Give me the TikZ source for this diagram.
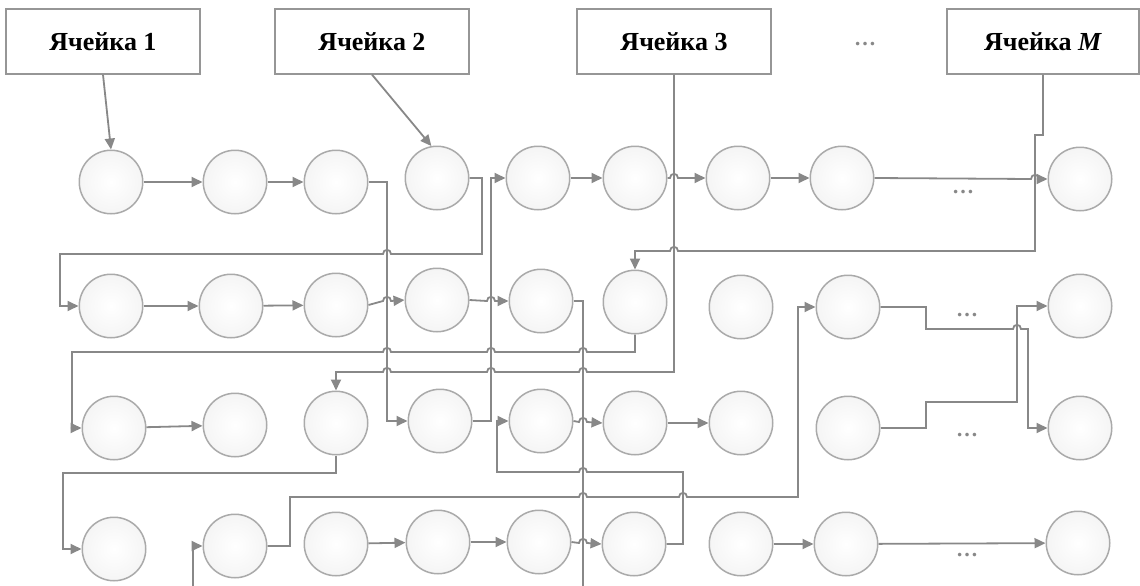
\documentclass[tikz,border=0pt]{standalone}
\usepackage{fontspec}
\setmainfont{Liberation Serif}
\usetikzlibrary{arrows.meta}
\definecolor{wiregray}{RGB}{136,136,136}
\definecolor{ringgray}{RGB}{170,170,170}
\definecolor{framegray}{RGB}{150,150,150}
\tikzset{
  cellbox/.style={rectangle, draw=framegray, line width=1.3pt, fill=white,
    minimum width=194pt, minimum height=65pt, inner sep=0pt,
    font=\fontsize{26}{30}\selectfont\bfseries},
  cell/.style={circle, draw=ringgray, line width=1.5pt, minimum size=63.5pt,
    inner sep=0pt, inner color=white, outer color=black!4},
  link/.style={draw=wiregray, line width=1.8pt,
    -{Triangle[length=11pt,width=10pt]}},
  gap/.style={text=wiregray, font=\fontsize{22}{22}\selectfont\bfseries,
    anchor=base, inner sep=0pt},
  % small bump where a line jumps over a crossing line
  hopr/.style 2 args={insert path={-- ({#1-4},#2)
    .. controls ({#1-4},{#2-5.5}) and ({#1+4},{#2-5.5}) .. ({#1+4},#2)}},
  hopl/.style 2 args={insert path={-- ({#1+4},#2)
    .. controls ({#1+4},{#2-5.5}) and ({#1-4},{#2-5.5}) .. ({#1-4},#2)}},
}
\begin{document}
\begin{tikzpicture}[x=1pt,y=-1pt]
\useasboundingbox (0,0) rectangle (1140,586);

% memory cells
\node[cellbox] (b1) at (103,41.5) {Ячейка 1};
\node[cellbox] (b2) at (372,41.5) {Ячейка 2};
\node[cellbox] (b3) at (674,41.5) {Ячейка 3};
\node[cellbox, minimum width=192pt] (bM) at (1043,41.5) {Ячейка \textit{M}};
\node[gap] (dtop) at (865,46) {…};

% row 1
\node[cell] (r1c1) at (111,182) {};
\node[cell] (r1c2) at (235,182) {};
\node[cell] (r1c3) at (336,182) {};
\node[cell] (r1c4) at (437,178) {};
\node[cell] (r1c5) at (538,178) {};
\node[cell] (r1c6) at (635,178) {};
\node[cell] (r1c7) at (738,178) {};
\node[cell] (r1c8) at (842,178) {};
\node[cell] (r1c9) at (1080,179) {};
% row 2
\node[cell] (r2c1) at (111,306) {};
\node[cell] (r2c2) at (231,306) {};
\node[cell] (r2c3) at (336,305) {};
\node[cell] (r2c4) at (437,300) {};
\node[cell] (r2c5) at (541,301) {};
\node[cell] (r2c6) at (635,302) {};
\node[cell] (r2c7) at (741,307) {};
\node[cell] (r2c8) at (848,307) {};
\node[cell] (r2c9) at (1080,306) {};
% row 3
\node[cell] (r3c1) at (114,428) {};
\node[cell] (r3c2) at (235,425) {};
\node[cell] (r3c3) at (336,423) {};
\node[cell] (r3c4) at (440,421) {};
\node[cell] (r3c5) at (541,421) {};
\node[cell] (r3c6) at (635,423) {};
\node[cell] (r3c7) at (741,423) {};
\node[cell] (r3c8) at (848,428) {};
\node[cell] (r3c9) at (1080,428) {};
% row 4
\node[cell] (r4c1) at (114,549) {};
\node[cell] (r4c2) at (235,546) {};
\node[cell] (r4c3) at (336,544) {};
\node[cell] (r4c4) at (438,542) {};
\node[cell] (r4c5) at (539,542) {};
\node[cell] (r4c6) at (634,544) {};
\node[cell] (r4c7) at (741,544) {};
\node[cell] (r4c8) at (846,544) {};
\node[cell] (r4c9) at (1078,543) {};

% omitted elements
\node[gap] (d1) at (963,193) {…};
\node[gap] (d2) at (967,316) {…};
\node[gap] (d3) at (967,436) {…};
\node[gap] (d4) at (967,556) {…};

% pointers from the cells to the first elements
\draw[link] (b1.south) -- (r1c1.north);
\draw[link] (b2.south) -- (r1c4.100);
\draw[link] (b3.south) -- (674,372) [hopl={583}{372}] [hopl={491}{372}]
  [hopl={387}{372}] -| (r3c3.north);
\draw[link] (bM.south) -- (1043,135) -- (1035,135) -- (1035,251)
  [hopl={674}{251}] -| (r2c6.north);

% chain starting in cell 1
\draw[link] (r1c1) -- (r1c2);
\draw[link] (r1c2) -- (r1c3);
\draw[link] (r1c3.east) -- (387,182) |- (r3c4.west);
\draw[link] (r3c4.east) -- (491,421) |- (r1c5.west);
\draw[link] (r1c5) -- (r1c6);
\draw[link] (r1c6.east) [hopr={674}{178}] -- (r1c7.west);
\draw[link] (r1c7) -- (r1c8);
\draw[link] (r1c8.east) [hopr={1035}{179}] -- (r1c9.west);

% chain starting in cell 2
\draw[link] (r1c4.east) -- (482,178) -- (482,254) [hopl={387}{254}]
  -- (60,254) |- (r2c1.west);
\draw[link] (r2c1) -- (r2c2);
\draw[link] (r2c2) -- (r2c3);
\draw[link] (r2c3.east) [hopr={387}{301}] -- (r2c4.west);
\draw[link] (r2c4.east) [hopr={491}{301}] -- (r2c5.west);
\draw[link] (r2c5.east) -- (583,301) -- (583,592) -- (193,592) |- (r4c2.west);
\draw[link] (r4c2.east) -- (290,546) -- (290,497) [hopr={583}{497}]
  [hopr={683}{497}] -- (798,497) |- (r2c8.west);
\draw[link] (r2c8.east) -- (926,307) -- (926,329) [hopr={1017}{329}]
  -- (1028,329) |- (r3c9.west);

% chain starting in cell M
\draw[link] (r2c6.south) -- (635,352) [hopl={583}{352}] [hopl={491}{352}]
  [hopl={387}{352}] -- (72,352) |- (r3c1.west);
\draw[link] (r3c1) -- (r3c2);

% chain starting in cell 3
\draw[link] (r3c3.south) -- (336,473) -- (63,473) |- (r4c1.west);

% remaining links
\draw[link] (r3c5.east) [hopr={583}{422}] -- (r3c6.west);
\draw[link] (r3c6) -- (r3c7);
\draw[link] (r4c6.east) -- (683,544) -- (683,472) [hopl={583}{472}]
  -- (497,472) |- (r3c5.west);
\draw[link] (r3c8.east) -- (926,428) -- (926,402) -- (1017,402) |- (r2c9.west);
\draw[link] (r4c3) -- (r4c4);
\draw[link] (r4c4) -- (r4c5);
\draw[link] (r4c5.east) [hopr={583}{543}] -- (r4c6.west);
\draw[link] (r4c7) -- (r4c8);
\draw[link] (r4c8) -- (r4c9);
\end{tikzpicture}
\end{document}
